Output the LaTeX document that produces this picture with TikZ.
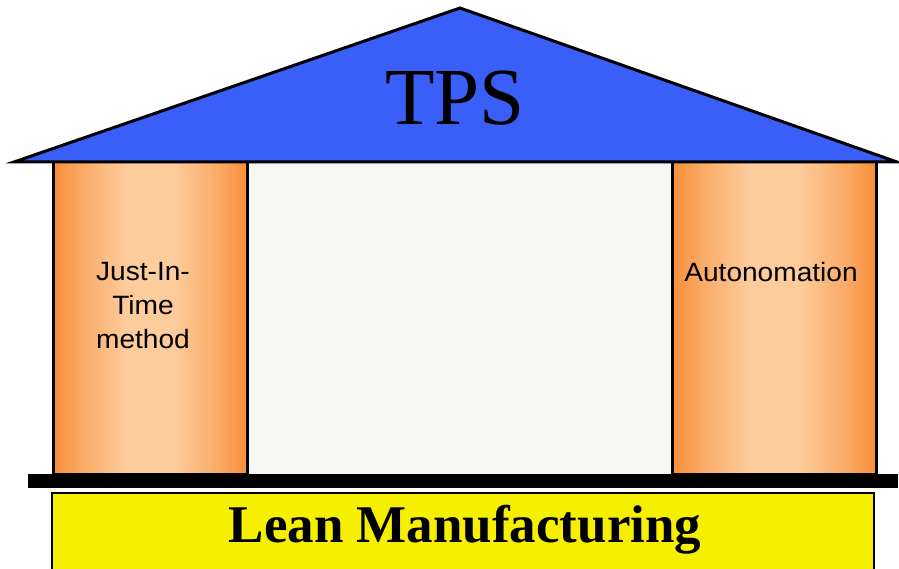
\documentclass[tikz,border=0pt]{standalone}
\usepackage{fontspec}
\setmainfont{Liberation Serif}
\newfontfamily\pillarfont[FakeStretch=1.06]{Liberation Sans}
\definecolor{roofblue}{RGB}{58,94,248}
\definecolor{pillaredge}{RGB}{247,142,58}
\definecolor{pillarsoft}{RGB}{250,172,105}
\definecolor{pillarmid}{RGB}{253,204,156}
\definecolor{hallfill}{RGB}{247,247,244}
\definecolor{basefill}{RGB}{246,240,0}
% orange column shading: deep at the sides, pale across the middle
\pgfdeclarehorizontalshading{pillarshade}{100bp}{
  color(0bp)=(pillaredge); color(25bp)=(pillaredge);
  color(33bp)=(pillarsoft); color(44bp)=(pillarmid);
  color(56bp)=(pillarmid); color(67bp)=(pillarsoft);
  color(75bp)=(pillaredge); color(100bp)=(pillaredge)}
\tikzset{
  outline/.style={draw=black, line width=3pt, line join=miter},
  pillar/.style={outline, shading=pillarshade},
  pillarlabel/.style={font=\pillarfont\fontsize{26.5}{34}\selectfont, align=center, text=black},
}
\begin{document}
\begin{tikzpicture}[x=1pt, y=-1pt]
  \useasboundingbox (0,0) rectangle (899,569);
  \fill[white] (0,0) rectangle (899,569);

  % hall between the pillars
  \fill[hallfill] (247,162) rectangle (672,474);

  % pillars
  \shade[pillar] (53,162) rectangle (247,474);
  \shade[pillar] (672,162) rectangle (876,474);

  % roof
  \draw[outline, fill=roofblue] (14,162) -- (460,8) -- (897,162) -- cycle;

  % floor beam
  \fill[black] (28,474) rectangle (898,488);

  % foundation
  \draw[fill=basefill, line width=2pt] (52,493) rectangle (874,575);

  % labels
  \node[font=\fontsize{81}{81}\selectfont] (tps) at (455,98) {TPS};
  \node[pillarlabel] (jit) at (143,306) {Just-In-\\Time\\method};
  \node[pillarlabel] (auto) at (771,272) {Autonomation};
  \node[font=\bfseries\fontsize{53}{53}\selectfont] (lean) at (465,530) {Lean Manufacturing};
\end{tikzpicture}
\end{document}
